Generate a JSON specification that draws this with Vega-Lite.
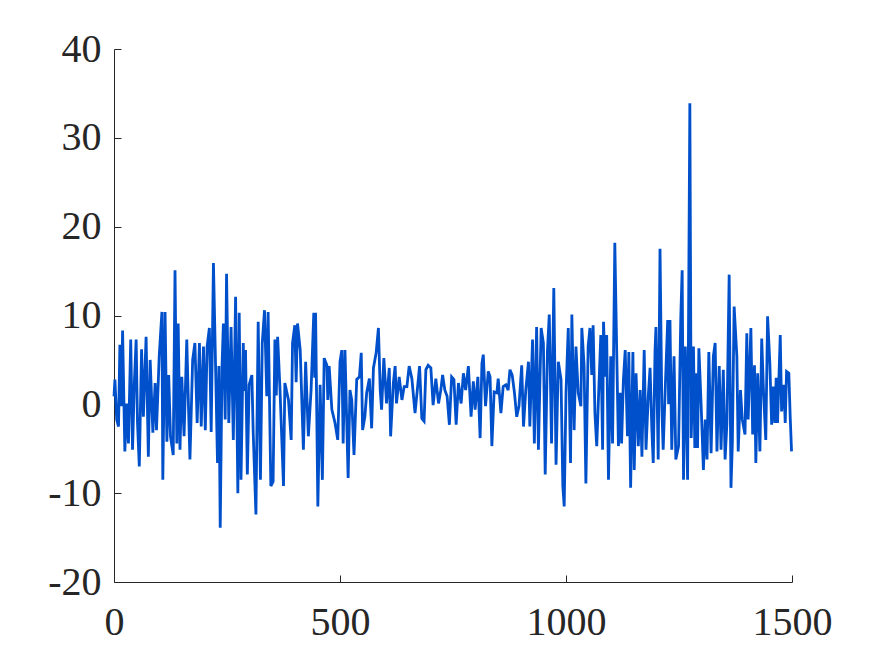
{
  "$schema": "https://vega.github.io/schema/vega-lite/v6.json",
  "width": 678,
  "height": 533,
  "autosize": {"type": "none"},
  "padding": {"left": 114, "top": 49, "right": 83, "bottom": 74},
  "background": "white",
  "config": {
    "view": {"stroke": null},
    "axis": {
      "grid": false,
      "domainColor": "#262626",
      "domainWidth": 1,
      "tickColor": "#262626",
      "tickWidth": 1,
      "tickSize": -7,
      "labelFontSize": 40,
      "labelColor": "#262626",
      "title": null
    }
  },
  "data": {"values": [
    {"t":0,"v":0.9},{"t":2,"v":2.8},{"t":6,"v":-1.7},{"t":10,"v":-2.5},{"t":13,"v":6.7},{"t":16,"v":-0.2},{"t":19,"v":8.3},{"t":24,"v":-5.3},{"t":28,"v":0.1},{"t":32,"v":-4.4},
    {"t":37,"v":7.3},{"t":41,"v":-5.1},{"t":45,"v":2.4},{"t":49,"v":7.3},{"t":52,"v":-2.1},{"t":56,"v":-7.0},{"t":61,"v":6.2},{"t":65,"v":-1.4},{"t":71,"v":7.6},{"t":76,"v":-5.9},
    {"t":80,"v":5.0},{"t":86,"v":-3.2},{"t":91,"v":2.4},{"t":94,"v":-2.9},{"t":100,"v":5.4},{"t":106,"v":10.4},{"t":108,"v":-8.5},{"t":113,"v":10.4},{"t":117,"v":-4.2},{"t":121,"v":3.3},
    {"t":125,"v":-3.6},{"t":131,"v":-5.7},{"t":135,"v":15.1},{"t":139,"v":-4.4},{"t":142,"v":9.1},{"t":146,"v":-5.1},{"t":150,"v":3.1},{"t":155,"v":-3.6},{"t":161,"v":7.3},{"t":165,"v":-0.6},
    {"t":168,"v":-6.2},{"t":174,"v":5.0},{"t":179,"v":6.9},{"t":184,"v":-2.1},{"t":189,"v":6.9},{"t":193,"v":-2.5},{"t":198,"v":6.5},{"t":202,"v":-2.9},{"t":206,"v":6.5},{"t":211,"v":8.6},
    {"t":215,"v":-3.1},{"t":220,"v":15.9},{"t":224,"v":6.1},{"t":229,"v":-6.6},{"t":232,"v":4.3},{"t":235,"v":-13.9},{"t":239,"v":4.3},{"t":242,"v":9.1},{"t":246,"v":-1.7},
    {"t":249,"v":14.7},{"t":254,"v":-2.1},{"t":259,"v":8.7},{"t":264,"v":-4.0},{"t":269,"v":12.1},{"t":274,"v":-10.0},{"t":277,"v":10.3},{"t":281,"v":-8.5},{"t":286,"v":6.9},{"t":288,"v":1.5},
    {"t":291,"v":6.1},{"t":295,"v":-7.9},{"t":299,"v":2.2},{"t":305,"v":3.3},{"t":308,"v":-3.2},{"t":314,"v":-12.4},{"t":319,"v":9.3},{"t":324,"v":-8.5},{"t":328,"v":6.9},{"t":333,"v":10.6},
    {"t":338,"v":0.9},{"t":341,"v":10.4},{"t":347,"v":-9.2},{"t":352,"v":-8.7},{"t":356,"v":7.3},{"t":359,"v":1.0},{"t":362,"v":7.6},{"t":367,"v":2.0},{"t":375,"v":-9.2},{"t":378,"v":2.4},
    {"t":386,"v":0.5},{"t":392,"v":-4.0},{"t":395,"v":6.9},{"t":400,"v":8.9},{"t":403,"v":2.5},{"t":406,"v":9.1},{"t":412,"v":6.1},{"t":419,"v":-5.1},{"t":424,"v":4.8},{"t":430,"v":-3.6},
    {"t":436,"v":1.6},{"t":442,"v":10.3},{"t":444,"v":3.0},{"t":446,"v":10.3},{"t":451,"v":-11.5},{"t":456,"v":2.2},{"t":461,"v":-8.5},{"t":465,"v":5.2},{"t":471,"v":4.4},{"t":473,"v":0.5},
    {"t":476,"v":4.3},{"t":482,"v":-0.6},{"t":489,"v":-2.1},{"t":495,"v":-4.0},{"t":500,"v":4.8},
    {"t":504,"v":6.1},{"t":507,"v":-4.4},{"t":511,"v":6.1},{"t":515,"v":-2.1},{"t":518,"v":-8.3},{"t":522,"v":1.6},{"t":526,"v":0.5},{"t":531,"v":-5.7},{"t":537,"v":2.8},{"t":543,"v":3.1},
    {"t":547,"v":5.8},{"t":550,"v":-2.9},{"t":555,"v":-1.4},{"t":559,"v":1.3},{"t":565,"v":2.9},{"t":570,"v":-2.7},{"t":574,"v":4.1},{"t":580,"v":5.8},{"t":585,"v":8.6},{"t":589,"v":1.6},
    {"t":592,"v":-0.6},{"t":597,"v":5.2},{"t":603,"v":0.1},{"t":609,"v":4.1},{"t":612,"v":-3.6},{"t":618,"v":2.4},{"t":622,"v":4.3},{"t":625,"v":0.1},{"t":631,"v":3.1},{"t":637,"v":0.5},
    {"t":642,"v":2.0},{"t":648,"v":2.0},{"t":653,"v":4.3},{"t":659,"v":2.9},{"t":666,"v":-1.0},{"t":671,"v":1.6},{"t":676,"v":4.3},{"t":681,"v":-1.6},{"t":686,"v":-1.9},{"t":690,"v":3.9},
    {"t":695,"v":4.4},{"t":701,"v":4.1},{"t":706,"v":-0.1},{"t":712,"v":2.9},{"t":718,"v":0.1},{"t":723,"v":1.6},{"t":727,"v":3.3},{"t":732,"v":1.6},{"t":737,"v":0.9},{"t":742,"v":-2.3},
    {"t":747,"v":3.1},{"t":752,"v":2.8},{"t":757,"v":-2.3},{"t":762,"v":2.4},
    {"t":768,"v":0.1},{"t":773,"v":3.5},{"t":778,"v":1.6},{"t":784,"v":4.3},{"t":790,"v":-1.4},{"t":795,"v":2.6},{"t":799,"v":-0.6},{"t":805,"v":3.1},{"t":810,"v":-3.8},{"t":814,"v":4.6},
    {"t":817,"v":5.6},{"t":822,"v":-0.2},{"t":828,"v":3.7},{"t":832,"v":3.1},{"t":836,"v":-4.7},{"t":841,"v":1.4},{"t":847,"v":1.3},{"t":850,"v":2.9},{"t":856,"v":-1.0},{"t":861,"v":2.0},
    {"t":867,"v":2.2},{"t":872,"v":1.6},{"t":876,"v":3.9},{"t":881,"v":3.3},{"t":886,"v":1.3},{"t":891,"v":-1.4},{"t":896,"v":-0.2},{"t":902,"v":4.4},{"t":906,"v":-2.5},{"t":911,"v":1.6},
    {"t":917,"v":4.8},{"t":920,"v":-2.5},{"t":926,"v":7.3},{"t":930,"v":-4.4},{"t":935,"v":8.7},{"t":939,"v":-5.1},{"t":945,"v":8.6},{"t":950,"v":6.9},{"t":954,"v":-7.9},{"t":959,"v":6.1},
    {"t":963,"v":10.1},{"t":968,"v":-4.4},{"t":973,"v":13.1},{"t":978,"v":-6.8},{"t":983,"v":4.8},{"t":989,"v":2.8},{"t":993,"v":-9.2},{"t":996,"v":-11.5},{"t":1000,"v":1.3},{"t":1005,"v":8.6},
    {"t":1010,"v":-6.6},{"t":1013,"v":10.1},
    {"t":1018,"v":-2.9},{"t":1022,"v":6.5},{"t":1027,"v":1.3},{"t":1033,"v":-0.2},{"t":1035,"v":8.6},{"t":1040,"v":4.4},{"t":1044,"v":-8.9},{"t":1049,"v":6.5},{"t":1053,"v":8.6},{"t":1057,"v":3.3},
    {"t":1060,"v":8.9},{"t":1064,"v":-1.0},{"t":1068,"v":-4.7},{"t":1072,"v":0.9},{"t":1077,"v":7.8},{"t":1081,"v":-5.1},{"t":1083,"v":9.3},{"t":1087,"v":3.1},{"t":1090,"v":7.8},{"t":1094,"v":-8.5},
    {"t":1099,"v":5.4},{"t":1103,"v":-4.4},{"t":1108,"v":18.2},{"t":1112,"v":6.5},{"t":1116,"v":-4.7},{"t":1120,"v":1.3},{"t":1123,"v":-4.4},{"t":1127,"v":2.8},{"t":1131,"v":6.1},{"t":1136,"v":-3.6},
    {"t":1139,"v":5.9},{"t":1143,"v":-9.4},{"t":1148,"v":5.9},{"t":1151,"v":-7.4},{"t":1155,"v":3.5},{"t":1160,"v":-4.7},{"t":1164,"v":1.6},{"t":1168,"v":-5.9},{"t":1173,"v":6.1},{"t":1177,"v":-5.1},
    {"t":1182,"v":0.9},{"t":1186,"v":4.1},{"t":1190,"v":-2.9},{"t":1193,"v":-6.6},{"t":1197,"v":6.1},{"t":1199,"v":8.7},{"t":1204,"v":-6.2},{"t":1208,"v":17.5},{"t":1212,"v":-0.2},{"t":1215,"v":-5.1},
    {"t":1220,"v":2.4},{"t":1225,"v":9.5},{"t":1227,"v":0.0},{"t":1230,"v":9.5},{"t":1234,"v":-5.1},{"t":1239,"v":5.4},{"t":1243,"v":-6.2},{"t":1249,"v":-4.7},{"t":1254,"v":9.9},{"t":1257,"v":15.1},
    {"t":1260,"v":-8.5},{"t":1264,"v":6.5},
    {"t":1269,"v":-8.5},{"t":1274,"v":33.9},{"t":1277,"v":-3.8},{"t":1282,"v":6.5},{"t":1285,"v":-4.9},{"t":1289,"v":3.5},{"t":1291,"v":-4.9},{"t":1294,"v":6.3},{"t":1299,"v":-0.1},{"t":1304,"v":-7.4},
    {"t":1308,"v":-1.7},{"t":1312,"v":-6.2},{"t":1316,"v":5.9},{"t":1321,"v":-5.5},{"t":1326,"v":5.4},{"t":1330,"v":6.9},{"t":1334,"v":-5.3},{"t":1339,"v":4.3},{"t":1343,"v":-5.1},{"t":1348,"v":3.9},
    {"t":1352,"v":-6.2},{"t":1356,"v":-2.1},{"t":1361,"v":14.6},{"t":1365,"v":-9.4},{"t":1368,"v":-4.4},{"t":1372,"v":11.0},{"t":1378,"v":5.4},{"t":1381,"v":-5.3},{"t":1386,"v":1.6},{"t":1390,"v":-1.7},
    {"t":1396,"v":-3.4},{"t":1400,"v":8.0},{"t":1403,"v":-1.7},{"t":1409,"v":8.6},{"t":1413,"v":-3.4},{"t":1417,"v":4.4},{"t":1420,"v":-6.6},{"t":1424,"v":3.5},{"t":1429,"v":-5.3},{"t":1433,"v":7.4},
    {"t":1437,"v":1.4},{"t":1442,"v":-4.0},{"t":1446,"v":9.9},{"t":1451,"v":4.6},{"t":1455,"v":-2.3},{"t":1459,"v":2.0},{"t":1462,"v":-2.1},{"t":1465,"v":3.0},{"t":1468,"v":-2.1},{"t":1474,"v":7.8},
    {"t":1477,"v":-0.8},{"t":1482,"v":2.2},{"t":1485,"v":-2.1},{"t":1488,"v":3.7},{"t":1493,"v":3.5},{"t":1496,"v":-1.4},{"t":1499,"v":-5.3}
  ]},
  "mark": {"type": "line", "color": "#0050CC", "strokeWidth": 2.8, "strokeJoin": "miter", "strokeMiterLimit": 4},
  "encoding": {
    "x": {
      "field": "t", "type": "quantitative",
      "scale": {"domain": [0, 1500], "nice": false, "zero": false},
      "axis": {"values": [0, 500, 1000, 1500], "labelFont": "Times New Roman", "labelExpr": "'' + datum.value", "labelPadding": 27, "labelFlush": false, "labelBound": false, "labelOverlap": false}
    },
    "y": {
      "field": "v", "type": "quantitative",
      "scale": {"domain": [-20, 40], "nice": false, "zero": false},
      "axis": {"values": [-20, -10, 0, 10, 20, 30, 40], "labelFont": "Liberation Serif", "labelExpr": "'' + datum.value", "labelPadding": 20, "labelFlush": false, "labelBound": false, "labelOverlap": false}
    }
  }
}
